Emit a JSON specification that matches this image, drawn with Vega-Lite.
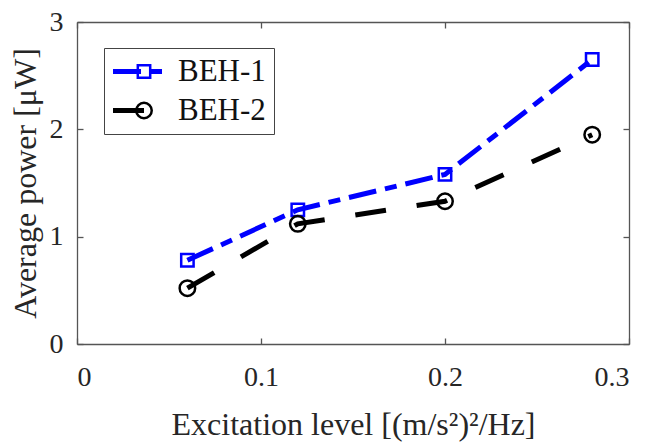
{
  "$schema": "https://vega.github.io/schema/vega-lite/v6.json",
  "width": 552,
  "height": 322,
  "autosize": "none",
  "padding": {"left": 77, "top": 22, "right": 20, "bottom": 100},
  "background": "white",
  "data": {"values": [
    {"level": 0.06, "power": 0.78, "series": "BEH-1"},
    {"level": 0.12, "power": 1.25, "series": "BEH-1"},
    {"level": 0.20, "power": 1.58, "series": "BEH-1"},
    {"level": 0.28, "power": 2.65, "series": "BEH-1"},
    {"level": 0.06, "power": 0.52, "series": "BEH-2"},
    {"level": 0.12, "power": 1.12, "series": "BEH-2"},
    {"level": 0.20, "power": 1.33, "series": "BEH-2"},
    {"level": 0.28, "power": 1.95, "series": "BEH-2"}
  ]},
  "config": {
    "font": "Liberation Serif",
    "view": {"stroke": null},
    "axis": {
      "grid": false,
      "domainColor": "#555555",
      "domainWidth": 1.3,
      "tickColor": "#555555",
      "tickWidth": 1.3,
      "tickSize": -6,
      "labelFont": "Liberation Serif",
      "labelFontSize": 28,
      "labelColor": "#262626",
      "titleFont": "Liberation Serif",
      "titleFontSize": 32,
      "titleFontWeight": "normal",
      "titleColor": "#262626"
    },
    "legend": {
      "labelFont": "Liberation Serif",
      "labelFontSize": 31,
      "labelColor": "#111111",
      "padding": 8,
      "rowPadding": 7
    }
  },
  "layer": [
    {
      "mark": {"type": "line", "strokeWidth": 5},
      "encoding": {
        "x": {"field": "level", "type": "quantitative",
              "scale": {"domain": [0, 0.3], "nice": false, "zero": false},
              "axis": {"orient": "bottom", "values": [0, 0.1, 0.2, 0.3], "format": ".1~f",
                       "labelPadding": 25, "title": "Excitation level [(m/s²)²/Hz]", "titlePadding": 18}},
        "y": {"field": "power", "type": "quantitative",
              "scale": {"domain": [0, 3], "nice": false},
              "axis": {"orient": "left", "values": [0, 1, 2, 3], "labelPadding": 20,
                       "title": "Average power [μW]", "titlePadding": 7}},
        "color": {"field": "series", "type": "nominal",
                  "scale": {"domain": ["BEH-1", "BEH-2"], "range": ["#0000ff", "#000000"]},
                  "legend": {"title": null, "orient": "none", "legendX": 27, "legendY": 26,
                             "symbolType": "M-2.07,0H5.93", "symbolSize": 196, "symbolStrokeWidth": 5,
                             "labelOffset": 35,
                             "strokeColor": "#444444", "fillColor": "white"}},
        "strokeDash": {"field": "series", "type": "nominal",
                       "scale": {"domain": ["BEH-1", "BEH-2"], "range": [[28, 9, 12, 9], [31, 31]]},
                       "legend": {"title": null, "orient": "none", "legendX": 27, "legendY": 26,
                             "symbolType": "M-2.07,0H5.93", "symbolSize": 196, "symbolStrokeWidth": 5,
                             "labelOffset": 35,
                             "strokeColor": "#444444", "fillColor": "white"}}
      }
    },
    {
      "mark": {"type": "point", "filled": false, "size": 240, "strokeWidth": 2.5, "opacity": 1},
      "encoding": {
        "x": {"field": "level", "type": "quantitative",
              "scale": {"domain": [0, 0.3], "nice": false, "zero": false},
              "axis": {"orient": "top", "values": [0, 0.1, 0.2, 0.3], "labels": false, "title": null}},
        "y": {"field": "power", "type": "quantitative",
              "scale": {"domain": [0, 3], "nice": false},
              "axis": {"orient": "right", "values": [0, 1, 2, 3], "labels": false, "title": null}},
        "color": {"field": "series", "type": "nominal",
                  "scale": {"domain": ["BEH-1", "BEH-2"], "range": ["#0000ff", "#000000"]},
                  "legend": {"title": null, "orient": "none", "legendX": 43.5, "legendY": 26,
                             "symbolSize": 240, "symbolStrokeWidth": 2.5, "symbolOpacity": 1,
                             "labelExpr": "' '"}},
        "shape": {"field": "series", "type": "nominal",
                  "scale": {"domain": ["BEH-1", "BEH-2"], "range": ["M-0.8,-0.8H0.8V0.8H-0.8Z", "circle"]},
                  "legend": {"title": null, "orient": "none", "legendX": 43.5, "legendY": 26,
                             "symbolSize": 240, "symbolStrokeWidth": 2.5, "symbolOpacity": 1,
                             "labelExpr": "' '"}}
      }
    }
  ],
  "resolve": {
    "axis": {"x": "independent", "y": "independent"},
    "legend": {"color": "independent", "shape": "independent", "strokeDash": "independent"}
  }
}
